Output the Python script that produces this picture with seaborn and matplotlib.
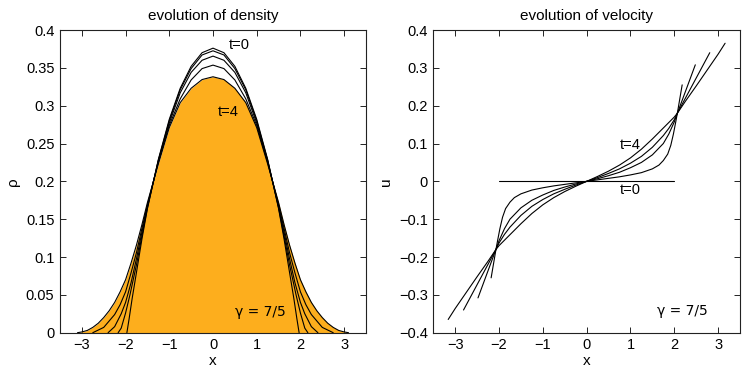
import matplotlib
matplotlib.use("Agg")
import matplotlib.pyplot as plt
import seaborn as sns
import pandas as pd

# ---------------- density data ----------------
rho_x_t0 = [-1.97, -1.92, -1.85, -1.75, -1.625, -1.5, -1.25, -1.0, -0.75, -0.5, -0.25, 0,
            0.25, 0.5, 0.75, 1.0, 1.25, 1.5, 1.625, 1.75, 1.85, 1.92, 1.97]
rho_t0 = [0, .018, .045, .080, .124, .164, .229, .282, .323, .352, .370, .376,
          .370, .352, .323, .282, .229, .164, .124, .080, .045, .018, 0]

rho_x_t1 = [-2.17, -2.1, -2.0, -1.9, -1.75, -1.625, -1.5, -1.25, -1.0, -0.75, -0.5, -0.25, 0,
            0.25, 0.5, 0.75, 1.0, 1.25, 1.5, 1.625, 1.75, 1.9, 2.0, 2.1, 2.17]
rho_t1 = [0, .006, .026, .050, .090, .128, .165, .228, .280, .321, .349, .367, .3725,
          .367, .349, .321, .280, .228, .165, .128, .090, .050, .026, .006, 0]

rho_x_t2 = [-2.4, -2.25, -2.1, -2.0, -1.875, -1.75, -1.625, -1.5, -1.25, -1.0, -0.75, -0.5, -0.25, 0,
            0.25, 0.5, 0.75, 1.0, 1.25, 1.5, 1.625, 1.75, 1.875, 2.0, 2.1, 2.25, 2.4]
rho_t2 = [0, .008, .025, .040, .066, .098, .133, .167, .227, .277, .317, .344, .360, .3655,
          .360, .344, .317, .277, .227, .167, .133, .098, .066, .040, .025, .008, 0]

rho_x_t3 = [-2.75, -2.5, -2.25, -2.125, -2.0, -1.875, -1.75, -1.625, -1.5, -1.25, -1.0, -0.75, -0.5, -0.25, 0,
            0.25, 0.5, 0.75, 1.0, 1.25, 1.5, 1.625, 1.75, 1.875, 2.0, 2.125, 2.25, 2.5, 2.75]
rho_t3 = [0, .007, .024, .037, .054, .079, .106, .138, .169, .225, .274, .309, .334, .349, .3536,
          .349, .334, .309, .274, .225, .169, .138, .106, .079, .054, .037, .024, .007, 0]

rho_x_t4 = [-3.1, -3.0, -2.875, -2.75, -2.625, -2.5, -2.375, -2.25, -2.125, -2.0, -1.875, -1.75, -1.625,
            -1.5, -1.25, -1.0, -0.75, -0.5, -0.25, 0,
            0.25, 0.5, 0.75, 1.0, 1.25, 1.5, 1.625, 1.75, 1.875, 2.0, 2.125, 2.25, 2.375, 2.5,
            2.625, 2.75, 2.875, 3.0, 3.1]
rho_t4 = [0, .001, .003, .007, .0125, .020, .029, .040, .054, .070, .092, .116, .143,
          .172, .223, .271, .304, .323, .3345, .3382,
          .3345, .323, .304, .271, .223, .172, .143, .116, .092, .070, .054, .040, .029, .020,
          .0125, .007, .003, .001, 0]

# ---------------- velocity data ----------------
u_x_t0 = [-2.0, 2.0]
u_t0 = [0, 0]

u_x_t1 = [-2.18, -2.07, -2.03, -1.98, -1.92, -1.85, -1.75, -1.65, -1.5, -1.25, -1.0, -0.75, -0.5, -0.25, 0,
          0.25, 0.5, 0.75, 1.0, 1.25, 1.5, 1.65, 1.75, 1.85, 1.92, 1.98, 2.03, 2.07, 2.18]
u_t1 = [-.255, -.18, -.155, -.125, -.095, -.072, -.055, -.043, -.033, -.023, -.017, -.012, -.008, -.004, 0,
        .004, .008, .012, .017, .023, .033, .043, .055, .072, .095, .125, .155, .18, .255]

u_x_t2 = [-2.48, -2.25, -2.07, -2.0, -1.875, -1.75, -1.5, -1.25, -1.0, -0.75, -0.5, -0.25, 0,
          0.25, 0.5, 0.75, 1.0, 1.25, 1.5, 1.75, 1.875, 2.0, 2.07, 2.25, 2.48]
u_t2 = [-.308, -.236, -.18, -.157, -.125, -.100, -.070, -.050, -.036, -.024, -.015, -.007, 0,
        .007, .015, .024, .036, .050, .070, .100, .125, .157, .18, .236, .308]

u_x_t3 = [-2.81, -2.5, -2.25, -2.07, -2.0, -1.875, -1.75, -1.5, -1.25, -1.0, -0.75, -0.5, -0.25, 0,
          0.25, 0.5, 0.75, 1.0, 1.25, 1.5, 1.75, 1.875, 2.0, 2.07, 2.25, 2.5, 2.81]
u_t3 = [-.340, -.273, -.219, -.18, -.163, -.140, -.121, -.090, -.066, -.048, -.033, -.021, -.010, 0,
        .010, .021, .033, .048, .066, .090, .121, .140, .163, .18, .219, .273, .340]

u_x_t4 = [-3.16, -3.0, -2.75, -2.5, -2.25, -2.07, -2.0, -1.75, -1.5, -1.25, -1.0, -0.75, -0.5, -0.25, 0,
          0.25, 0.5, 0.75, 1.0, 1.25, 1.5, 1.75, 2.0, 2.07, 2.25, 2.5, 2.75, 3.0, 3.16]
u_t4 = [-.365, -.336, -.294, -.252, -.211, -.18, -.170, -.141, -.112, -.085, -.062, -.043, -.027, -.013, 0,
        .013, .027, .043, .062, .085, .112, .141, .170, .18, .211, .252, .294, .336, .365]

x_ticks = [-3, -2, -1, 0, 1, 2, 3]
rho_ticks = [0, 0.05, 0.1, 0.15, 0.2, 0.25, 0.3, 0.35, 0.4]
u_ticks = [-0.4, -0.3, -0.2, -0.1, 0, 0.1, 0.2, 0.3, 0.4]

rho_curves = [(rho_x_t0, rho_t0), (rho_x_t1, rho_t1), (rho_x_t2, rho_t2),
              (rho_x_t3, rho_t3), (rho_x_t4, rho_t4)]
u_curves = [(u_x_t0, u_t0), (u_x_t1, u_t1), (u_x_t2, u_t2),
            (u_x_t3, u_t3), (u_x_t4, u_t4)]

sns.set_style("ticks")
plt.rcParams['font.family'] = ['Liberation Sans', 'DejaVu Sans']
plt.rcParams['axes.unicode_minus'] = True
plt.rcParams['font.size'] = 10
for k in ['text.color', 'axes.labelcolor', 'xtick.color', 'ytick.color', 'axes.edgecolor']:
    plt.rcParams[k] = 'black'

fig = plt.figure(figsize=(7.47, 3.74), dpi=100)
ax1 = fig.add_axes([60 / 747, 41.3 / 374, 306 / 747, 302.7 / 374])
ax2 = fig.add_axes([433.3 / 747, 41.3 / 374, 306.7 / 747, 302.7 / 374])

FILL = '#FDAE1D'
ax1.fill_between(rho_x_t4, rho_t4, 0, color=FILL, lw=0, zorder=1)
for xs, ys in rho_curves:
    df = pd.DataFrame({'x': xs, 'y': ys})
    sns.lineplot(data=df, x='x', y='y', ax=ax1, color='black', lw=0.8,
                 sort=False, estimator=None, zorder=3)
for xs, ys in u_curves:
    df = pd.DataFrame({'x': xs, 'y': ys})
    sns.lineplot(data=df, x='x', y='y', ax=ax2, color='black', lw=0.8,
                 sort=False, estimator=None, zorder=3)

def style(ax, yt, ylim, ylabel, title, yfmt):
    ax.set_xlim(-3.5, 3.5)
    ax.set_ylim(*ylim)
    ax.set_xticks(x_ticks)
    ax.set_xticklabels([('\u2212' + str(abs(v))) if v < 0 else str(v) for v in x_ticks])
    ax.set_yticks(yt)
    ax.set_yticklabels([yfmt(v) for v in yt])
    ax.tick_params(direction='in', length=4, width=0.6, top=True, right=True,
                   labelsize=10.5, pad=4, color='black', labelcolor='black')
    for s in ax.spines.values():
        s.set_visible(True)
        s.set_linewidth(0.8)
        s.set_color('#222222')
    ax.set_xlabel('x', fontsize=11, labelpad=1)
    ax.set_ylabel(ylabel, fontsize=11, labelpad=4)
    ax.set_title(title, fontsize=11, pad=7)
    ax.grid(False)

def fmt_rho(v):
    if v == 0:
        return '0'
    return ('%g' % v)

def fmt_u(v):
    if v == 0:
        return '0'
    s = '%g' % abs(v)
    return ('\u2212' + s) if v < 0 else s

style(ax1, rho_ticks, (0, 0.4), '\u03c1', 'evolution of density', fmt_rho)
style(ax2, u_ticks, (-0.4, 0.4), 'u', 'evolution of velocity', fmt_u)

ax1.text(0.37, 0.380, 't=0', fontsize=10.5, ha='left', va='center', zorder=5)
ax1.text(0.11, 0.292, 't=4', fontsize=10.5, ha='left', va='center', zorder=5)
ax1.text(0.5, 0.028, '\u03b3 = 7/5', fontsize=10, ha='left', va='center', zorder=5,
         family=['DejaVu Sans'])

ax2.text(0.75, 0.095, 't=4', fontsize=10.5, ha='left', va='center', zorder=5)
ax2.text(0.75, -0.024, 't=0', fontsize=10.5, ha='left', va='center', zorder=5)
ax2.text(1.61, -0.343, '\u03b3 = 7/5', fontsize=10, ha='left', va='center', zorder=5,
         family=['DejaVu Sans'])

fig.savefig('out.png', dpi=100)
